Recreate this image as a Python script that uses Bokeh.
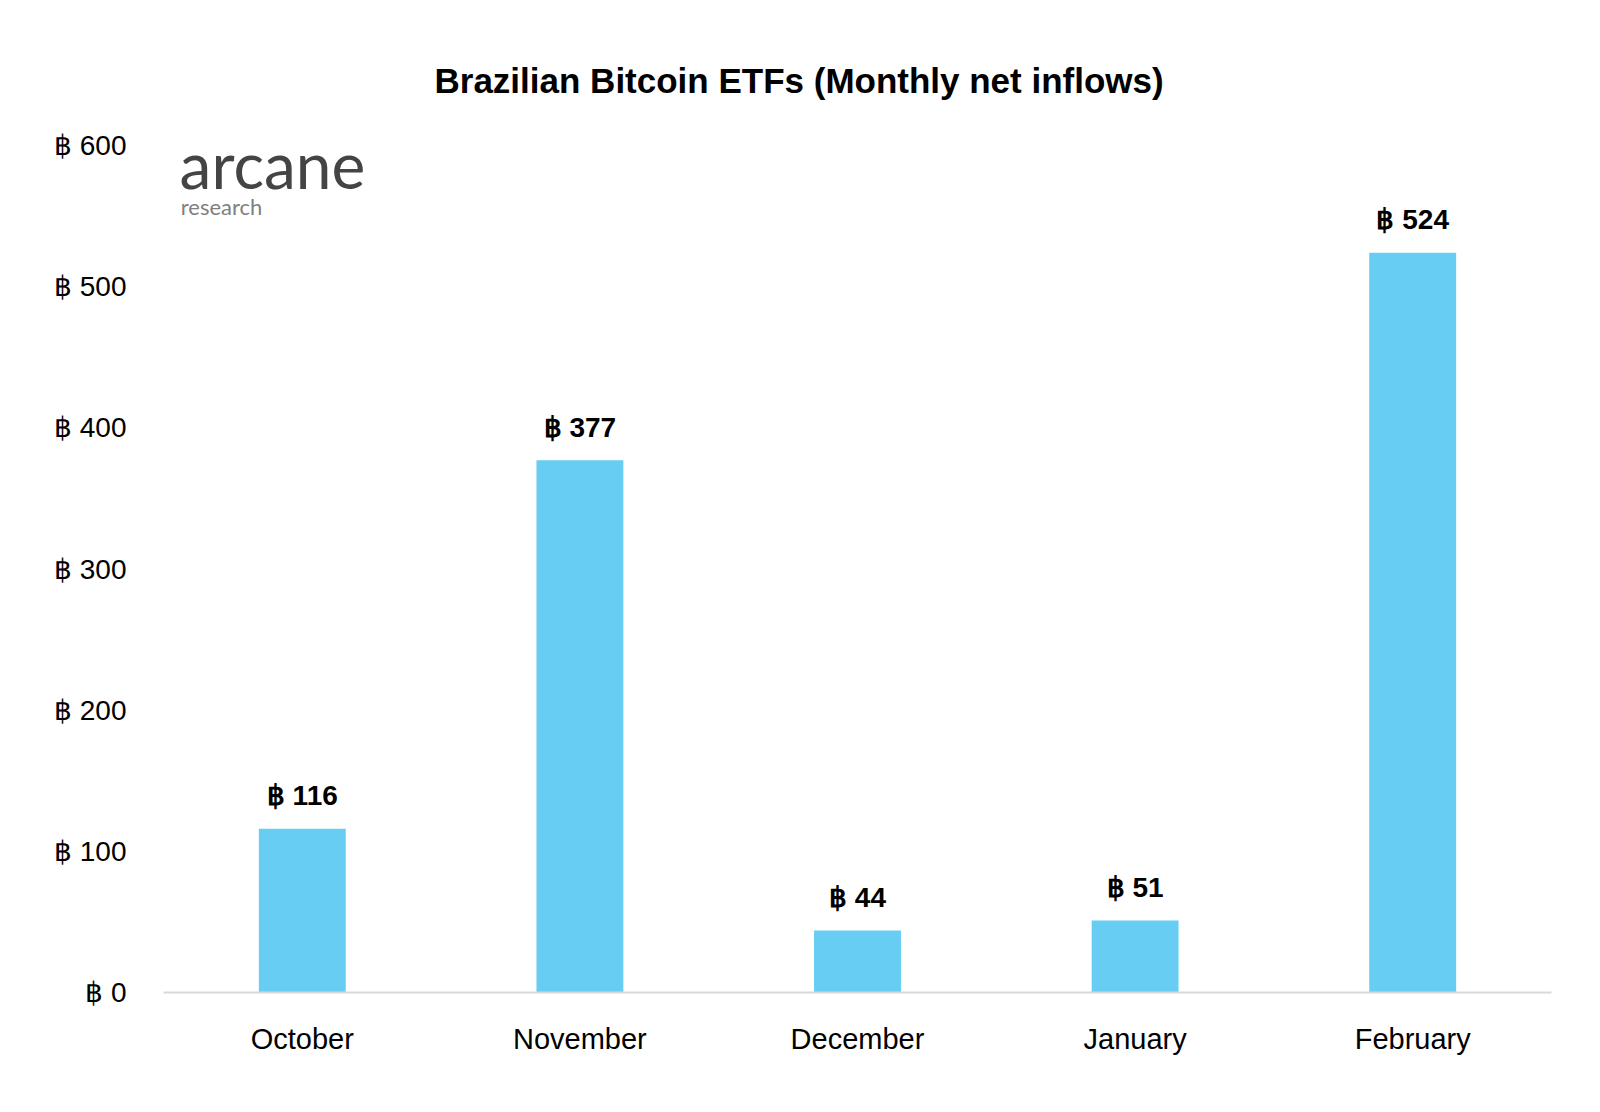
from bokeh.plotting import figure
from bokeh.models import ColumnDataSource, PrintfTickFormatter, Label, Range1d
from bokeh.core.properties import value
from bokeh.embed import file_html
from bokeh.resources import INLINE

months = ["October", "November", "December", "January", "February"]
inflows = [116, 377, 44, 51, 524]
bar_labels = ["\u0e3f %d" % v for v in inflows]
y_ticks = [0, 100, 200, 300, 400, 500, 600]

src = ColumnDataSource(dict(month=months, val=inflows, lab=bar_labels))

FONT = "Liberation Sans"

p = figure(x_range=months, y_range=Range1d(0, 600), width=1584, height=1096,
           output_backend="svg", toolbar_location=None,
           min_border_left=163, min_border_right=33, min_border_top=145,
           min_border_bottom=104)
p.title.text = "Brazilian Bitcoin ETFs (Monthly net inflows)"
p.title.align = "left"
p.title.offset = 271
p.title.text_font = FONT
p.title.text_font_size = "35px"
p.title.text_font_style = "bold"
p.title.text_color = "#000000"
p.title.standoff = 92

p.vbar(x="month", top="val", width=0.313, source=src, color="#67CDF3", line_color=None)
p.text(x="month", y="val", text="lab", source=src, text_align="center",
       text_baseline="alphabetic", y_offset=-33, text_font=value(FONT),
       text_font_size="28px", text_font_style="bold", text_color="#000000")

p.xgrid.visible = False
p.ygrid.visible = False
p.outline_line_color = None

p.yaxis.ticker = y_ticks
p.yaxis.formatter = PrintfTickFormatter(format="\u0e3f %d")
p.yaxis.axis_line_color = None
p.yaxis.major_tick_line_color = None
p.yaxis.minor_tick_line_color = None
p.yaxis.major_label_text_font = FONT
p.yaxis.major_label_text_font_size = "28px"
p.yaxis.major_label_text_color = "#000000"
p.yaxis.major_label_standoff = 31

p.xaxis.axis_line_color = "#d9d9d9"
p.xaxis.axis_line_width = 2
p.xaxis.major_tick_line_color = None
p.xaxis.minor_tick_line_color = None
p.xaxis.major_label_text_font = FONT
p.xaxis.major_label_text_font_size = "29px"
p.xaxis.major_label_text_color = "#000000"
p.xaxis.major_label_standoff = 24

p.add_layout(Label(x=0.058, y=559, text="arcane", text_font="Lato",
                   text_font_size="64px", text_color="#444444"))
p.add_layout(Label(x=0.062, y=547, text="research", text_font="Lato",
                   text_font_size="22px", text_color="#808080"))

open("out.html", "w").write(file_html(p, INLINE))
